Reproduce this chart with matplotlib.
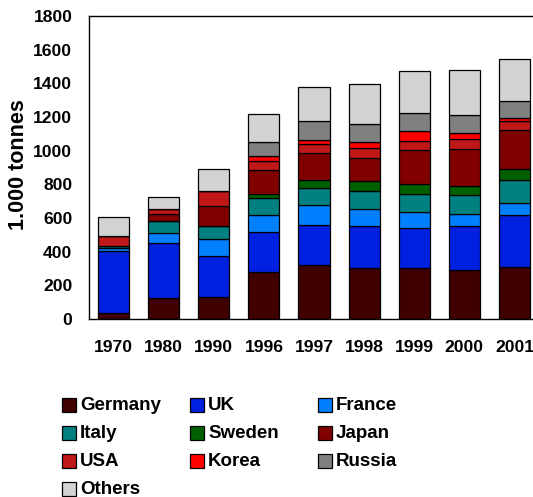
import matplotlib
matplotlib.use("Agg")
import matplotlib.pyplot as plt
from matplotlib.patches import Rectangle
import numpy as np

plt.rcParams['font.family'] = ['Liberation Sans', 'DejaVu Sans']
plt.rcParams['font.weight'] = 'bold'

years = ["1970", "1980", "1990", "1996", "1997", "1998", "1999", "2000", "2001"]
countries = ["Germany", "UK", "France", "Italy", "Sweden", "Japan", "USA", "Korea", "Russia", "Others"]

germany = [37, 123, 129, 277, 321, 301, 301, 293, 311]
uk      = [367, 330, 247, 238, 239, 251, 240, 258, 305]
france  = [15, 56, 101, 101, 119, 99, 93, 75, 73]
italy   = [15, 73, 75, 101, 101, 111, 110, 111, 137]
sweden  = [0, 0, 0, 26, 46, 56, 56, 51, 65]
japan   = [0, 43, 121, 142, 158, 140, 202, 224, 232]
usa     = [61, 28, 87, 53, 54, 56, 57, 55, 55]
korea   = [0, 0, 0, 30, 24, 36, 56, 38, 18]
russia  = [0, 0, 0, 82, 116, 108, 109, 109, 101]
others  = [111, 74, 133, 166, 202, 236, 249, 267, 250]

series = [germany, uk, france, italy, sweden, japan, usa, korea, russia, others]
colors = ["#400000", "#0020E0", "#0080FF", "#008080", "#006000",
          "#800000", "#C01818", "#FF0000", "#808080", "#D3D3D3"]

W, H = 533, 497
fig = plt.figure(figsize=(W / 100, H / 100), dpi=100)
left, right, top, bottom = 89, 539, 16, 319
ax = fig.add_axes([left / W, 1 - bottom / H, (right - left) / W, (bottom - top) / H])

x = np.arange(len(years))
base = np.zeros(len(years))
for vals, col, name in zip(series, colors, countries):
    v = np.array(vals, dtype=float)
    ax.bar(x, v, width=0.62, bottom=base, color=col, edgecolor="black",
           linewidth=0.9, label=name, zorder=2)
    base += v

ax.set_xlim(-0.49, 8.49)
ax.set_ylim(0, 1800)
ax.set_yticks(np.arange(0, 1801, 200))
ax.set_xticks(x)
ax.set_xticklabels(years)
ax.tick_params(axis='both', length=0, labelsize=12.6)
ax.tick_params(axis='y', pad=12)
ax.tick_params(axis='x', pad=15)
for lbl in ax.get_xticklabels() + ax.get_yticklabels():
    lbl.set_fontweight('bold')
for s in ['left', 'bottom', 'top']:
    ax.spines[s].set_linewidth(1.0)
    ax.spines[s].set_color('black')
ax.spines['right'].set_visible(False)
ax.set_ylabel("1.000 tonnes", fontsize=15.5, fontweight='bold')
ax.yaxis.set_label_coords((29 - left) / (right - left), (bottom - 165) / (bottom - top))

# legend drawn manually in a grid (3 columns)
for i, (name, col) in enumerate(zip(countries, colors)):
    r, c = divmod(i, 3)
    px = 62 + 128 * c
    py = 405 + 28 * r
    fig.patches.append(Rectangle((px / W, 1 - (py + 7) / H), 14 / W, 14 / H,
                                 transform=fig.transFigure, facecolor=col,
                                 edgecolor='black', linewidth=0.9))
    fig.text((px + 18) / W, 1 - py / H, name, fontsize=13.5, fontweight='bold',
             va='center', ha='left')

fig.savefig("out.png", dpi=100)
